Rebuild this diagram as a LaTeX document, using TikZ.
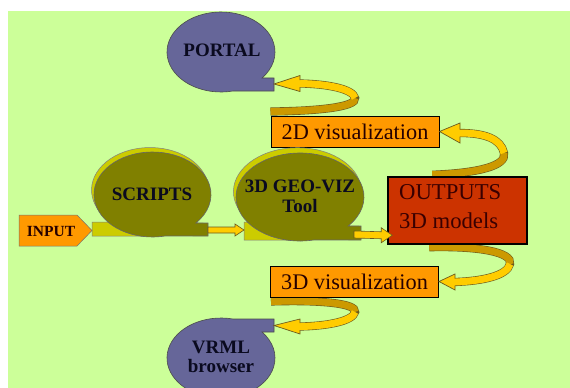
\documentclass[tikz,border=0pt]{standalone}
\usepackage{fontspec}
\setmainfont{Liberation Serif}
\usetikzlibrary{calc}
\pgfdeclarelayer{base}
\pgfdeclarelayer{ribbons}
\pgfsetlayers{base,ribbons,main}
\definecolor{bgreen}{HTML}{CCFF99}
\definecolor{slate}{HTML}{666699}
\definecolor{olivebody}{HTML}{808000}
\definecolor{shadowy}{HTML}{CCCC00}
\definecolor{orangebox}{HTML}{FF9900}
\definecolor{redbox}{HTML}{CC3300}
\definecolor{gold}{HTML}{FFCC00}
\definecolor{golddark}{HTML}{CC9900}
\definecolor{ribedge}{HTML}{6B5A1E}
\definecolor{inktext}{HTML}{0A0A1F}
\definecolor{boxtext}{HTML}{260000}
\definecolor{outtextc}{HTML}{3A0000}
\newcommand\blockarrow[5]{%
  \filldraw[barrow] ($(#1)+(0,-#3)$) -- ($(#2)+(-#5,-#3)$) -- ($(#2)+(-#5,-#4)$) -- (#2)
    -- ($(#2)+(-#5,#4)$) -- ($(#2)+(-#5,#3)$) -- ($(#1)+(0,#3)$) -- cycle;}
\newcommand\ribhead[3]{%
  \fill[gold] ($(#1)+(0,-3.5)$) -- ($(#1)+(0,-#3)$) -- (#2) -- ($(#1)+(0,#3)$) -- ($(#1)+(0,3.5)$) -- cycle;
  \draw[ribheadline] ($(#1)+(0,-3.5)$) -- ($(#1)+(0,-#3)$) -- (#2) -- ($(#1)+(0,#3)$) -- ($(#1)+(0,3.5)$);}
\begin{document}
\begin{tikzpicture}[x=1pt,y=-1pt,
  bubbletext/.style={font=\fontsize{19}{19.5}\selectfont\bfseries, text=inktext, align=center, inner sep=0pt},
  bluebub/.style={fill=slate, draw=black!70, line width=0.6pt},
  olivebub/.style={fill=olivebody, draw=black!60, line width=0.6pt},
  shadowbub/.style={fill=shadowy, draw=black!50, line width=0.5pt},
  visbox/.style={fill=orangebox, draw=black, line width=1pt, minimum width=168pt, minimum height=31pt,
     font=\fontsize{22.3}{24}\selectfont, text=boxtext, inner sep=0pt},
  outbox/.style={fill=redbox, draw=black, line width=1.5pt, minimum width=139pt, minimum height=67pt, inner sep=0pt},
  outtext/.style={font=\fontsize{22.7}{24}\selectfont, text=outtextc, inner sep=0pt, anchor=west},
  inputshape/.style={fill=orangebox, draw=black!55, line width=0.5pt},
  inputtext/.style={font=\fontsize{15.5}{16}\selectfont\bfseries, text=boxtext, inner sep=0pt},
  ribline/.style={draw=ribedge, line width=8.2pt},
  ribback/.style={draw=golddark, line width=7pt},
  ribfront/.style={draw=gold, line width=7pt},
  ribheadline/.style={draw=ribedge, line width=0.7pt, line join=miter},
  barrow/.style={fill=gold, draw=ribedge, line width=0.6pt}]
\useasboundingbox (0,0) rectangle (570,388);
\clip (0,0) rectangle (570,388);
\begin{pgfonlayer}{base}
  \fill[white] (0,0) rectangle (570,388);
  \fill[bgreen] (8,11) rectangle (570,388);
\end{pgfonlayer}

% ---------- boxes ----------
\node[visbox] (vis2) at (355,131.5) {2D visualization};
\node[visbox] (vis3) at (354.5,281.5) {3D visualization};
\node[outbox] (outputs) at (457.5,210.5) {};
\node[outtext] (out1) at (399,192) {OUTPUTS};
\node[outtext] (out2) at (399,221) {3D models};

% ---------- bubbles ----------
% PORTAL
\filldraw[bluebub] (221,52) ++(77.2:54 and 40) arc[start angle=77.2, end angle=400.5, x radius=54, y radius=40]
  -- (274,78) -- (274,91) -- cycle;
\coordinate (portaltail) at (274,84);
\node[bubbletext] (portal) at (222,50) {PORTAL};
% VRML
\filldraw[bluebub] (221,358) ++(-77.2:54 and 40) arc[start angle=-77.2, end angle=-400.5, x radius=54, y radius=40]
  -- (274,332) -- (274,319) -- cycle;
\coordinate (vrmltail) at (274,325.5);
\node[bubbletext] (vrml) at (221,357) {VRML\\browser};
% SCRIPTS
\filldraw[shadowbub] (92,236) -- (92,222) -- (111.5,222) arc[start angle=131.2, end angle=420, x radius=58.5, y radius=42.5]
  -- (160,236) -- cycle;
\filldraw[olivebub] (152.5,194.5) ++(77.5:58.5 and 42.5) arc[start angle=77.5, end angle=402.1, x radius=58.5, y radius=42.5]
  -- (208,223) -- (208,236) -- cycle;
\node[bubbletext] (scripts) at (152,194) {SCRIPTS};
\coordinate (scriptstail) at (208,230);
% 3D GEO-VIZ
\filldraw[shadowbub] (244,240) -- (244,222) -- (251,222) arc[start angle=136.5, end angle=420, x radius=64, y radius=44]
  -- (300,240) -- cycle;
\filldraw[olivebub] (300,197) ++(77.7:64 and 44) arc[start angle=77.7, end angle=401.2, x radius=64, y radius=44]
  -- (361,226) -- (361,240) -- cycle;
\node[bubbletext] (geoviz) at (300,196.5) {3D GEO-VIZ\\Tool};
\coordinate (geovizin) at (244,230);
\coordinate (geoviztail) at (354,234.5);
\coordinate (outputsin) at ($(outputs.south west)+(5,-9.5)$);

% ---------- INPUT ----------
\filldraw[inputshape] (19,215) -- (77,215) -- (92,230.5) -- (77,246) -- (19,246) -- cycle;
\node[inputtext] (input) at (51,231) {INPUT};

% ---------- straight arrows ----------
\blockarrow{scriptstail}{geovizin}{3}{6}{9}
\blockarrow{geoviztail}{outputsin}{3.5}{7.5}{11}

% ---------- curled ribbon arrows ----------
\begin{pgfonlayer}{ribbons}
  % OUTPUTS -> 2D visualization
  \coordinate (as) at ($(outputs.north west)+(45,-1.5)$);
  \coordinate (at) at (504,153);
  \coordinate (ab) at (460,133);
  \draw[ribline] (as) .. controls (478,173) and (507,166) .. (at) .. controls (501,139) and (485,133) .. (ab);
  \draw[ribback] (as) .. controls (478,173) and (507,166) .. (at);
  \draw[ribfront] (at) .. controls (501,139) and (485,133) .. (ab);
  % 2D visualization -> PORTAL
  \coordinate (bs) at ($(vis2.north west)+(0,-4)$);
  \coordinate (bt) at (355,98);
  \coordinate (bb) at (300,83.5);
  \draw[ribline] (bs) .. controls (318,111) and (357,107) .. (bt) .. controls (353,89) and (328,84) .. (bb);
  \draw[ribback] (bs) .. controls (318,111) and (357,107) .. (bt);
  \draw[ribfront] (bt) .. controls (353,89) and (328,84) .. (bb);
  % OUTPUTS -> 3D visualization
  \coordinate (cs) at ($(outputs.south west)+(42,2.5)$);
  \coordinate (ct) at (510,264);
  \coordinate (cb) at (455,282);
  \draw[ribline] (cs) .. controls (478,246) and (513,252) .. (ct) .. controls (507,276) and (482,281) .. (cb);
  \draw[ribback] (cs) .. controls (478,246) and (513,252) .. (ct);
  \draw[ribfront] (ct) .. controls (507,276) and (482,281) .. (cb);
  % 3D visualization -> VRML browser
  \coordinate (ds) at ($(vis3.south west)+(1,4)$);
  \coordinate (dt) at (355,312);
  \coordinate (db) at (300,326.5);
  \draw[ribline] (ds) .. controls (318,300) and (357,303) .. (dt) .. controls (353,321) and (328,326) .. (db);
  \draw[ribback] (ds) .. controls (318,300) and (357,303) .. (dt);
  \draw[ribfront] (dt) .. controls (353,321) and (328,326) .. (db);
\end{pgfonlayer}
\ribhead{ab}{vis2.east}{10}
\ribhead{bb}{portaltail}{8}
\ribhead{cb}{vis3.east}{8}
\ribhead{db}{vrmltail}{7.5}
\end{tikzpicture}
\end{document}
